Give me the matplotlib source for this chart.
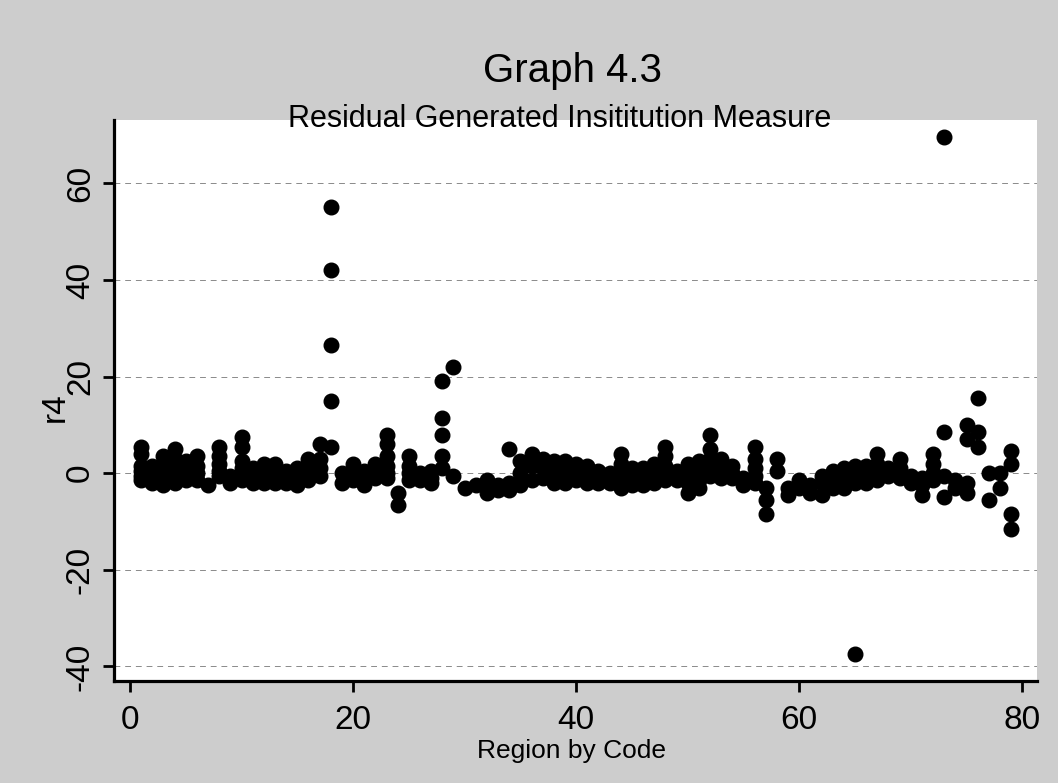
import matplotlib
matplotlib.use("Agg")
import matplotlib.pyplot as plt

# residual r4, one line per region code
region = (
    [1] * 6 + [2] * 4 + [3] * 5 + [4] * 5 + [5] * 4 + [6] * 4 + [7] * 1 + [8] * 5
    + [9] * 2 + [10] * 6 + [11] * 3 + [12] * 4 + [13] * 4 + [14] * 3 + [15] * 3
    + [16] * 4 + [17] * 4 + [18] * 5 + [19] * 2 + [20] * 3 + [21] * 3 + [22] * 3
    + [23] * 6 + [24] * 2 + [25] * 4 + [26] * 2 + [27] * 3 + [28] * 5 + [29] * 2
    + [30] * 1 + [31] * 1 + [32] * 2 + [33] * 2 + [34] * 3 + [35] * 3 + [36] * 3
    + [37] * 3 + [38] * 4 + [39] * 4 + [40] * 3 + [41] * 3 + [42] * 3 + [43] * 2
    + [44] * 5 + [45] * 3 + [46] * 3 + [47] * 3 + [48] * 5 + [49] * 2 + [50] * 4
    + [51] * 4 + [52] * 5 + [53] * 3 + [54] * 3 + [55] * 2 + [56] * 5 + [57] * 3
    + [58] * 2 + [59] * 2 + [60] * 2 + [61] * 2 + [62] * 3 + [63] * 3 + [64] * 3
    + [65] * 4 + [66] * 3 + [67] * 4 + [68] * 2 + [69] * 3 + [70] * 2 + [71] * 3
    + [72] * 4 + [73] * 4 + [74] * 2 + [75] * 4 + [76] * 3 + [77] * 2 + [78] * 2
    + [79] * 4
)
r4 = [
    5.5, 4, 1.5, 0.5, -0.5, -1.5,   # 1
    1.5, 0, -1, -2,                 # 2
    3.5, 2, 0.5, -1, -2.5,          # 3
    5, 3, 1, -0.5, -2,              # 4
    2.5, 1, 0, -1.5,                # 5
    3.5, 1.5, 0, -1.5,              # 6
    -2.5,                           # 7
    5.5, 3.5, 2, 0.5, -0.5,         # 8
    -0.5, -2,                       # 9
    7.5, 5.5, 2.5, 1, -0.5, -1.5,   # 10
    1, -0.5, -2,                    # 11
    2, 0.5, -1, -2,                 # 12
    2, 0.5, -1, -2,                 # 13
    0.5, -1, -2,                    # 14
    1, -0.5, -2.5,                  # 15
    3, 1.5, 0, -1.5,                # 16
    6, 3, 1, -0.5,                  # 17
    55, 42, 26.5, 15, 5.5,          # 18
    0, -2,                          # 19
    2, 0, -1.5,                     # 20
    0.5, -1, -2.5,                  # 21
    2, 0.5, -1,                     # 22
    8, 6, 3.5, 1.5, 0, -1,          # 23
    -4, -6.5,                       # 24
    3.5, 1.5, 0, -1.5,              # 25
    0, -1.5,                        # 26
    0.5, -1, -2,                    # 27
    19, 11.5, 8, 3.5, 1,            # 28
    22, -0.5,                       # 29
    -3,                             # 30
    -2.5,                           # 31
    -1.5, -4,                       # 32
    -2.5, -3.5,                     # 33
    5, -2, -3.5,                    # 34
    2.5, 0, -2.5,                   # 35
    4, 1.5, -1.5,                   # 36
    3, 1, -1,                       # 37
    2.5, 1, -0.5, -2,               # 38
    2.5, 1, -1, -2,                 # 39
    2, 0.5, -1.5,                   # 40
    1.5, 0, -2,                     # 41
    0.5, -1, -2,                    # 42
    0, -2,                          # 43
    4, 2, 0, -1.5, -3,              # 44
    1, -1, -2.5,                    # 45
    1, -1, -2.5,                    # 46
    2, 0, -2,                       # 47
    5.5, 3.5, 1.5, 0, -1.5,         # 48
    0.5, -1.5,                      # 49
    2, 0, -2, -4,                   # 50
    2.5, 0.5, -1.5, -3,             # 51
    8, 5, 3, 1.5, -0.5,             # 52
    3, 1, -1,                       # 53
    1.5, 0, -1,                     # 54
    -1, -2.5,                       # 55
    5.5, 3, 1, -0.5, -2,            # 56
    -3, -5.5, -8.5,                 # 57
    3, 0.5,                         # 58
    -3, -4.5,                       # 59
    -1.5, -3,                       # 60
    -2.5, -4,                       # 61
    -0.5, -2, -4.5,                 # 62
    0.5, -1, -3,                    # 63
    1, -1, -3,                      # 64
    1.5, -0.5, -2, -37.5,           # 65
    1.5, 0, -2,                     # 66
    4, 2, 0.5, -1.5,                # 67
    1, -0.5,                        # 68
    3, 1, -1,                       # 69
    -0.5, -2,                       # 70
    -1, -2.5, -4.5,                 # 71
    4, 2, 0, -1.5,                  # 72
    69.5, 8.5, -0.5, -5,            # 73
    -1.5, -3,                       # 74
    10, 7, -2, -4,                  # 75
    15.5, 8.5, 5.5,                 # 76
    0, -5.5,                        # 77
    0, -3,                          # 78
    4.5, 2, -8.5, -11.5,            # 79
]

x_ticks = [0, 20, 40, 60, 80]
y_ticks = [-40, -20, 0, 20, 40, 60]

plt.rcParams["font.family"] = ["Liberation Sans", "DejaVu Sans"]
plt.rcParams["axes.unicode_minus"] = False

fig = plt.figure(figsize=(10.58, 7.83), dpi=100, facecolor="#cdcdcd")
ax = fig.add_axes([0.1078, 0.1303, 0.8722, 0.7164])
ax.set_facecolor("white")

for y in y_ticks:
    ax.axhline(y, color="#8a8a8a", lw=0.7, ls=(0, (6, 5)), zorder=1)

ax.plot(region, r4, "o", color="black", markersize=10.5, zorder=3)

ax.set_xlim(-1.43, 81.3)
ax.set_ylim(-43.0, 73.1)
ax.set_xticks(x_ticks)
ax.set_yticks(y_ticks)

for side in ["top", "right"]:
    ax.spines[side].set_visible(False)
for side in ["left", "bottom"]:
    ax.spines[side].set_linewidth(2.3)

ax.tick_params(axis="both", length=8, width=2, labelsize=24)
ax.tick_params(axis="x", pad=9)
ax.tick_params(axis="y", pad=5)
for t in ax.get_yticklabels():
    t.set_rotation(90)
    t.set_va("center")

ax.set_xlabel("Region by Code", fontsize=19)
ax.xaxis.set_label_coords(0.496, -0.125)
ax.xaxis.label.set_va("center")
ax.set_ylabel("r4", fontsize=24)
ax.yaxis.set_label_coords(-0.064, 0.488)
ax.yaxis.label.set_va("center")

fig.text(0.541, 0.895, "Graph 4.3", fontsize=29, ha="center", va="baseline")
fig.text(0.529, 0.838, "Residual Generated Insititution Measure",
         fontsize=22, ha="center", va="baseline")

fig.savefig("out.png", dpi=100, facecolor=fig.get_facecolor())
